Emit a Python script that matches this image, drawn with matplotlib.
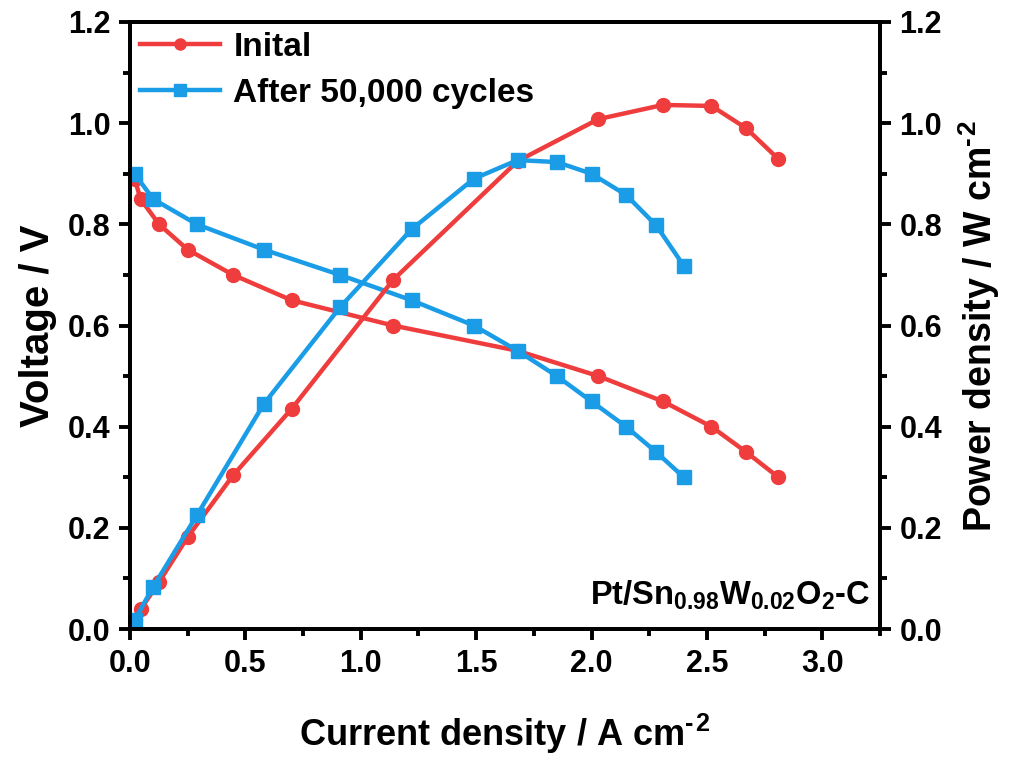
import matplotlib
matplotlib.use("Agg")
import matplotlib.pyplot as plt
from matplotlib.ticker import MultipleLocator, FormatStrFormatter

plt.rcParams['font.family'] = ['Liberation Sans', 'DejaVu Sans']
plt.rcParams['font.weight'] = 'bold'
plt.rcParams['mathtext.fontset'] = 'custom'
plt.rcParams['mathtext.rm'] = 'Liberation Sans:bold'
plt.rcParams['mathtext.bf'] = 'Liberation Sans:bold'
plt.rcParams['mathtext.it'] = 'Liberation Sans:bold'

# Initial
init_j = [0.02, 0.046, 0.126, 0.25, 0.447, 0.70, 1.14, 1.68, 2.03, 2.31, 2.52, 2.67, 2.81]
init_v = [0.89, 0.85, 0.80, 0.75, 0.70, 0.65, 0.60, 0.55, 0.50, 0.45, 0.40, 0.35, 0.30]
init_p = [0.018, 0.039, 0.093, 0.182, 0.304, 0.435, 0.69, 0.925, 1.008, 1.036, 1.034, 0.99, 0.929]

# After 50,000 cycles
aft_j = [0.02, 0.10, 0.29, 0.58, 0.91, 1.22, 1.49, 1.68, 1.85, 2.00, 2.15, 2.28, 2.40]
aft_v = [0.90, 0.85, 0.80, 0.75, 0.70, 0.65, 0.60, 0.55, 0.50, 0.45, 0.40, 0.35, 0.30]
aft_p = [0.018, 0.083, 0.225, 0.445, 0.636, 0.79, 0.89, 0.927, 0.923, 0.90, 0.858, 0.798, 0.718]

labels = ['Inital', 'After 50,000 cycles']
red = '#EF3D3D'
blue = '#1A9DE6'

fig = plt.figure(figsize=(10.22, 7.57), dpi=100)
ax = fig.add_axes([0.1272, 0.169, 0.7338, 0.802])
ax2 = ax.twinx()

lw = 3.2
ms = 10
l1, = ax.plot(init_j, init_v, '-o', color=red, lw=lw, ms=ms, label=labels[0])
l2, = ax.plot(aft_j, aft_v, '-s', color=blue, lw=lw, ms=ms, label=labels[1])
ax2.plot(init_j, init_p, '-o', color=red, lw=lw, ms=ms)
ax2.plot(aft_j, aft_p, '-s', color=blue, lw=lw, ms=ms)

ax.set_xlim(0, 3.25)
ax.set_ylim(0, 1.2)
ax2.set_ylim(0, 1.2)

for a in (ax, ax2):
    a.xaxis.set_major_locator(MultipleLocator(0.5))
    a.xaxis.set_minor_locator(MultipleLocator(0.25))
    a.yaxis.set_major_locator(MultipleLocator(0.2))
    a.yaxis.set_minor_locator(MultipleLocator(0.1))
    a.tick_params(which='major', direction='out', length=8, width=2.8, labelsize=22, pad=6)
    a.tick_params(which='minor', direction='out', length=5, width=2.8)
    for s in a.spines.values():
        s.set_linewidth(2.8)

ax.xaxis.set_major_formatter(FormatStrFormatter('%.1f'))
ax.yaxis.set_major_formatter(FormatStrFormatter('%.1f'))
ax2.yaxis.set_major_formatter(FormatStrFormatter('%.1f'))

ax.set_xlabel('Current density / A cm$^{\u2010\u200a2}$', fontsize=26, fontweight='bold', labelpad=24)
ax.set_ylabel('Voltage / V', fontsize=29, fontweight='bold', labelpad=8)
ax2.set_ylabel('Power density / W cm$^{\u2010\u200a2}$', fontsize=27, fontweight='bold', labelpad=10)

leg = ax.legend(handles=[l1, l2], loc='upper left', frameon=False, fontsize=24,
                handlelength=2.4, borderaxespad=0.0, borderpad=0.3,
                labelspacing=0.45, handletextpad=0.4, markerscale=0.8)

ax.text(0.987, 0.04, r'Pt/Sn$_{0.98}$W$_{0.02}$O$_2$-C', transform=ax.transAxes,
        ha='right', va='baseline', fontsize=23.5, fontweight='bold')

fig.savefig('out.png', dpi=100)
